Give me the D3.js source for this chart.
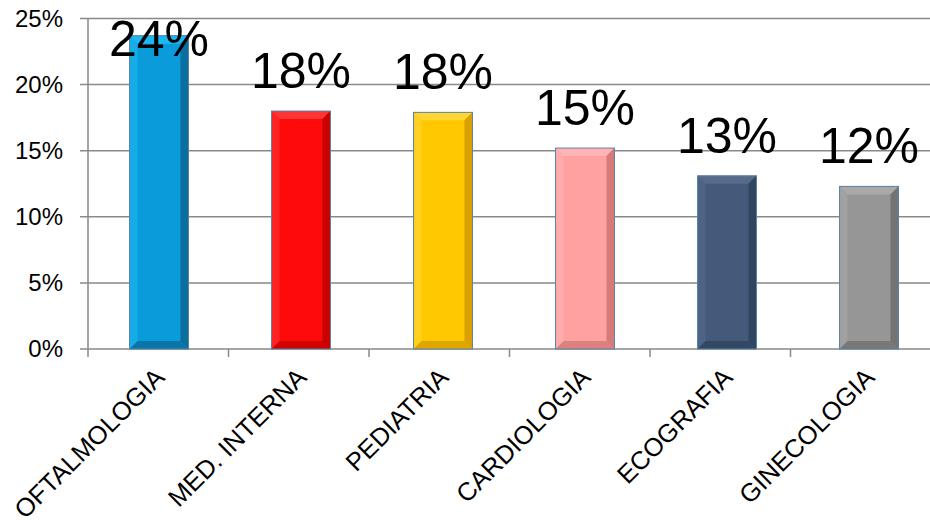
<!DOCTYPE html>
<html>
<head>
<meta charset="utf-8">
<script src="https://cdn.jsdelivr.net/npm/d3@7"></script>
<style>
  html, body { margin: 0; padding: 0; background: #fff; }
  text { font-family: "Liberation Sans", Arial, sans-serif; }
</style>
</head>
<body>
<div class="chart"></div>
<script>
// datos
const categories = ['OFTALMOLOGIA', 'MED. INTERNA', 'PEDIATRIA', 'CARDIOLOGIA', 'ECOGRAFIA', 'GINECOLOGIA']
const values = [23.7, 18.0, 17.9, 15.2, 13.1, 12.3]
const yTicks = [0, 5, 10, 15, 20, 25]

// colores de cada barra: cara, bisel claro, bisel oscuro
const faceColors = ['#0a9cda', '#ff0a0a', '#ffc800', '#ffa1a1', '#445a7b', '#969696']
const lightColors = ['#1cb8f2', '#ff3434', '#ffd633', '#ffb4b4', '#566b8c', '#a9a9a9']
const darkColors = ['#0a6e9e', '#c80000', '#d9a000', '#d67a7a', '#30465f', '#737373']

const width = 930
const height = 523
const margin = { top: 18.5, right: 0, bottom: 174, left: 88 }

const svg = d3.select('.chart').append('svg')
  .attr('width', width)
  .attr('height', height)

// escala de las barras
const x = d3.scaleBand()
  .domain(categories)
  .range([margin.left, margin.left + 6 * 142])
  .paddingInner(0.585)
  .paddingOuter(0.2925)

// escala para las marcas del eje x
const xAxis = d3.scaleBand()
  .domain(categories)
  .range([margin.left, width + 1])

const y = d3.scaleLinear()
  .domain([0, 25])
  .range([height - margin.bottom, margin.top])

// lineas de la cuadricula
svg.append('g')
  .selectAll('line')
  .data(yTicks)
  .join('line')
  .attr('x1', margin.left - 8)
  .attr('x2', width - margin.right)
  .attr('y1', d => y(d))
  .attr('y2', d => y(d))
  .attr('stroke', '#898989')
  .attr('stroke-width', 1.5)

// eje vertical
svg.append('line')
  .attr('x1', margin.left).attr('x2', margin.left)
  .attr('y1', y(25)).attr('y2', y(0) + 8)
  .attr('stroke', '#898989')
  .attr('stroke-width', 1.5)

// marcas del eje x entre categorias
svg.append('g')
  .selectAll('line')
  .data(categories.slice(1))
  .join('line')
  .attr('x1', d => xAxis(d))
  .attr('x2', d => xAxis(d))
  .attr('y1', y(0))
  .attr('y2', y(0) + 8)
  .attr('stroke', '#898989')
  .attr('stroke-width', 1.5)

// etiquetas del eje y
svg.append('g')
  .selectAll('text')
  .data(yTicks)
  .join('text')
  .attr('x', margin.left - 25)
  .attr('y', d => y(d))
  .attr('dy', '0.35em')
  .attr('text-anchor', 'end')
  .style('font-size', '24px')
  .attr('fill', '#000')
  .text(d => d + '%')

// barras con bisel
const b = 8
const bars = svg.append('g')
  .selectAll('g')
  .data(values)
  .join('g')

bars.each(function (v, i) {
  const g = d3.select(this)
  const x0 = x(categories[i])
  const x1 = x0 + x.bandwidth()
  const y0 = y(v)
  const y1 = y(0)
  const pts = p => p.map(q => q.join(',')).join(' ')
  g.append('rect')
    .attr('x', x0).attr('y', y0)
    .attr('width', x1 - x0).attr('height', y1 - y0)
    .attr('fill', faceColors[i])
  g.append('polygon')
    .attr('points', pts([[x0, y0], [x1, y0], [x1 - b, y0 + b], [x0 + b, y0 + b]]))
    .attr('fill', lightColors[i])
  g.append('polygon')
    .attr('points', pts([[x0, y0], [x0 + b, y0 + b], [x0 + b, y1 - b], [x0, y1]]))
    .attr('fill', lightColors[i])
    .attr('opacity', 0.6)
  g.append('polygon')
    .attr('points', pts([[x1, y0], [x1, y1], [x1 - b, y1 - b], [x1 - b, y0 + b]]))
    .attr('fill', darkColors[i])
  g.append('polygon')
    .attr('points', pts([[x0, y1], [x0 + b, y1 - b], [x1 - b, y1 - b], [x1, y1]]))
    .attr('fill', darkColors[i])
    .attr('opacity', 0.85)
  g.append('rect')
    .attr('x', x0).attr('y', y0)
    .attr('width', x1 - x0).attr('height', y1 - y0)
    .attr('fill', 'none')
    .attr('stroke', '#5a82a8')
    .attr('stroke-width', 1)
})

// etiquetas de valores
svg.append('g')
  .selectAll('text')
  .data(values)
  .join('text')
  .attr('x', (d, i) => x(categories[i]) + x.bandwidth() / 2)
  .attr('y', d => Math.max(y(d) - 23, y(25) + 37))
  .attr('text-anchor', 'middle')
  .style('font-size', '50px')
  .attr('fill', '#000')
  .text(d => d3.format('.0%')(d / 100))

// etiquetas de categorias giradas
svg.append('g')
  .selectAll('text')
  .data(categories)
  .join('text')
  .attr('transform', d => `translate(${x(d) + x.bandwidth() / 2 + 7},${y(0) + 30}) rotate(-45)`)
  .attr('text-anchor', 'end')
  .style('font-size', '25.5px')
  .attr('fill', '#000')
  .text(d => d)
</script>
</body>
</html>
